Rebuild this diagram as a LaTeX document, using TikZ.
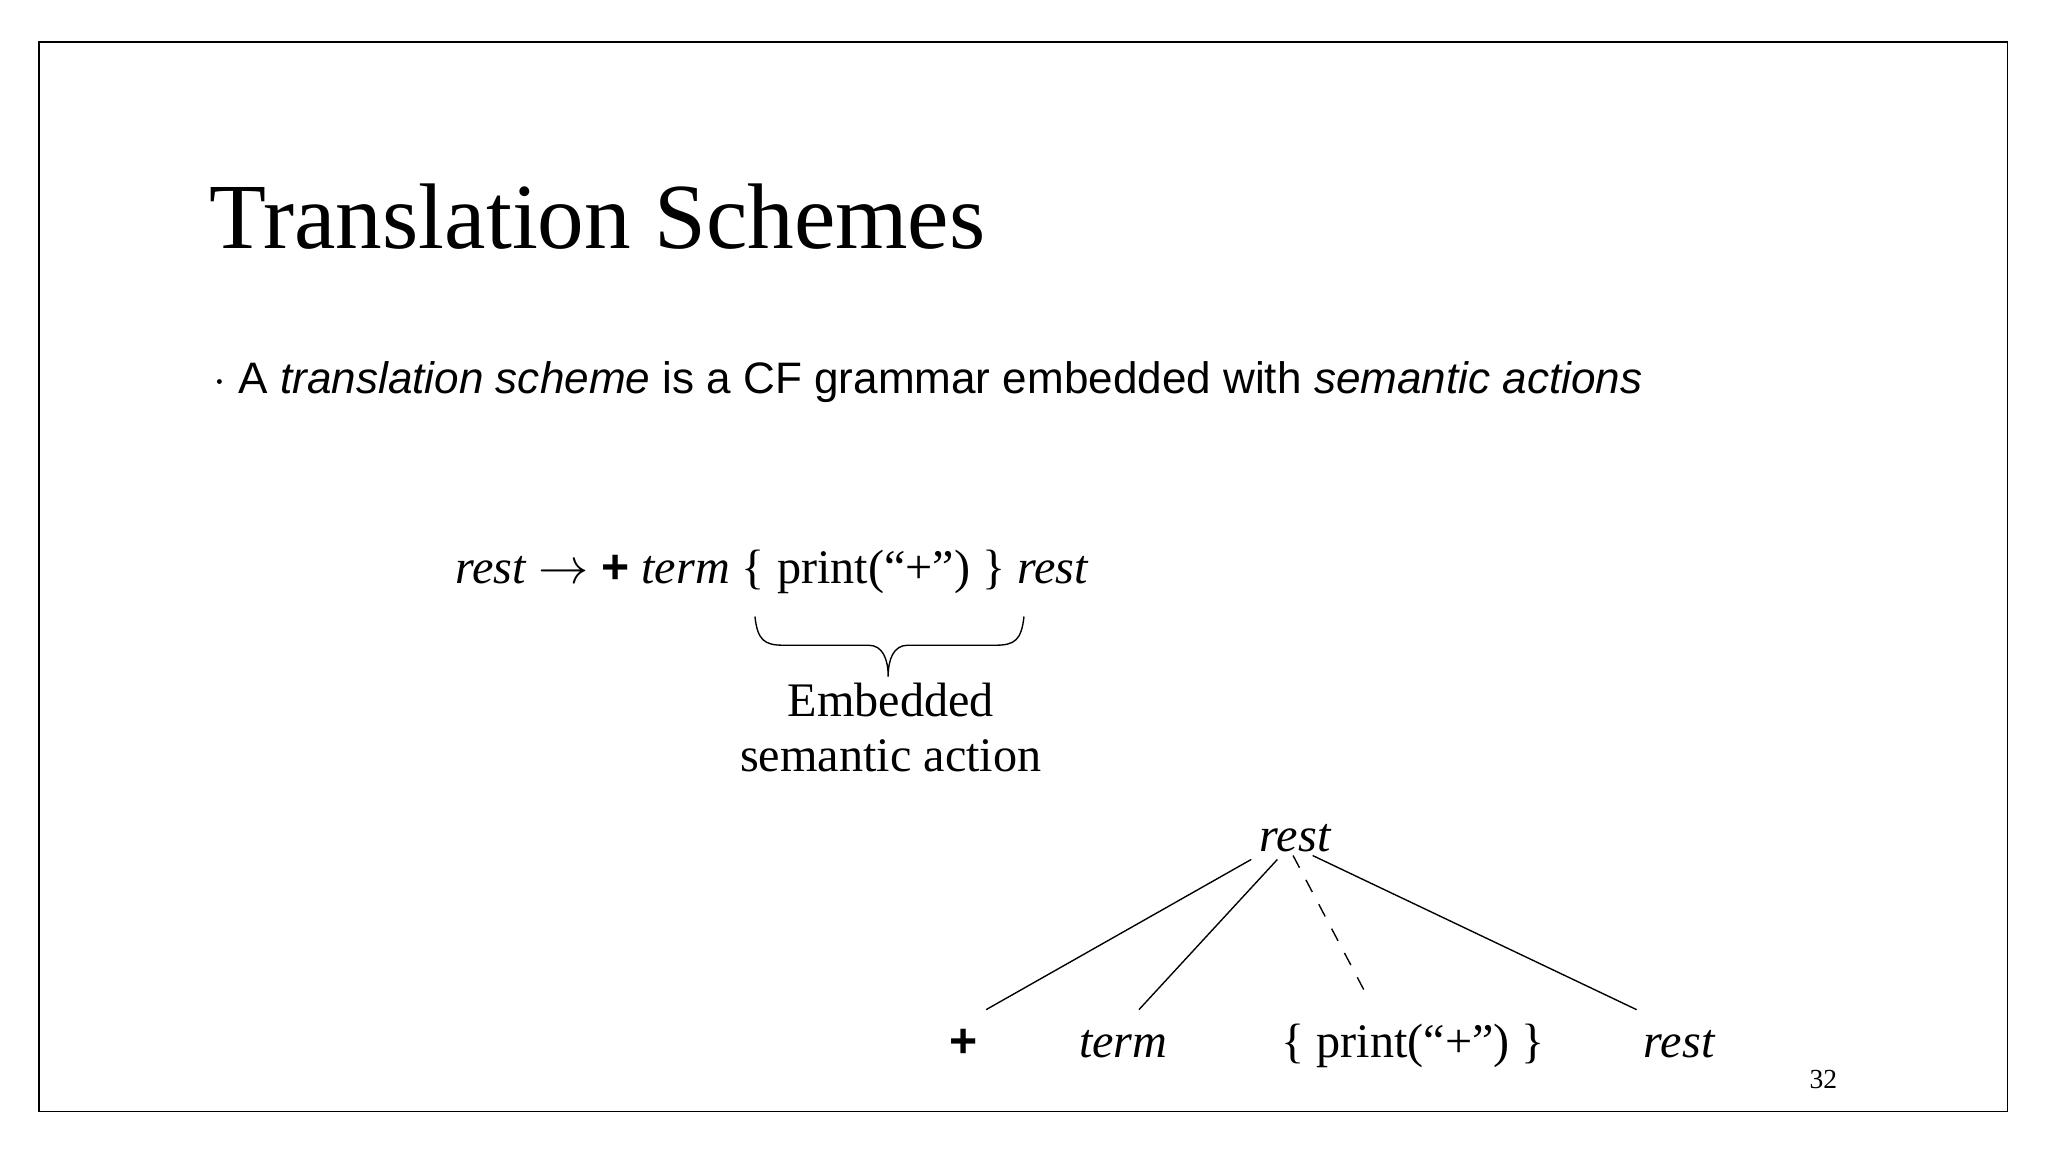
\documentclass[tikz,border=0pt]{standalone}
\usepackage{fontspec}
\setmainfont{Liberation Serif}
\setsansfont{Liberation Sans}
\begin{document}
\begin{tikzpicture}[x=0.1mm,y=-0.1mm,
  lbl/.style={inner sep=0pt,font=\fontsize{10.5pt}{12pt}\selectfont},
  edge/.style={line width=0.3pt}]
\useasboundingbox (0,0) rectangle (1568,882);
\draw[line width=0.4pt] (30,32) rectangle (1537,851);
\node[anchor=base west,inner sep=0pt,font=\fontsize{20.3pt}{24pt}\selectfont] (title) at (160,190) {Translation Schemes};
\node[anchor=base west,inner sep=0pt,font=\sffamily\fontsize{9.6pt}{12pt}\selectfont] (bullet) at (163,301) {$\cdot$\ A \textit{translation scheme} is a CF grammar embedded with \textit{semantic actions}};
\node[lbl,anchor=base west] (rule) at (348,447) {\textit{rest} $\rightarrow$ \textsf{\textbf{+}} \textit{term} \{ print(“+”) \} \textit{rest}};
\draw[edge] (578,472) .. controls (580,490) and (585,494) .. (600,494) -- (665,494) .. controls (676,494) and (680,505) .. (680,518)
  .. controls (680,505) and (684,494) .. (695,494) -- (762,494) .. controls (777,494) and (782,490) .. (784,472);
\node[lbl,align=center,anchor=north] (emb) at (682,522) {Embedded\\semantic action};
\node[lbl,anchor=base] (root) at (992,652) {\textit{rest}};
\node[lbl,anchor=base] (l1) at (738,810) {\textsf{\textbf{+}}};
\node[lbl,anchor=base] (l2) at (860,810) {\textit{term}};
\node[lbl,anchor=base] (l3) at (1082,810) {\{ print(“+”) \}};
\node[lbl,anchor=base] (l4) at (1286,810) {\textit{rest}};
\coordinate (a1) at (755,773); \coordinate (a2) at (872,773);
\coordinate (a3) at (1048,765); \coordinate (a4) at (1253,773);
\draw[edge] (958,658) -- (a1);
\draw[edge] (978,658) -- (a2);
\draw[edge,dashed] (990,655) -- (a3);
\draw[edge] (1005,655) -- (a4);
\node[inner sep=0pt,anchor=base,font=\fontsize{6pt}{7pt}\selectfont] (pg) at (1396,833) {32};
\end{tikzpicture}
\end{document}
